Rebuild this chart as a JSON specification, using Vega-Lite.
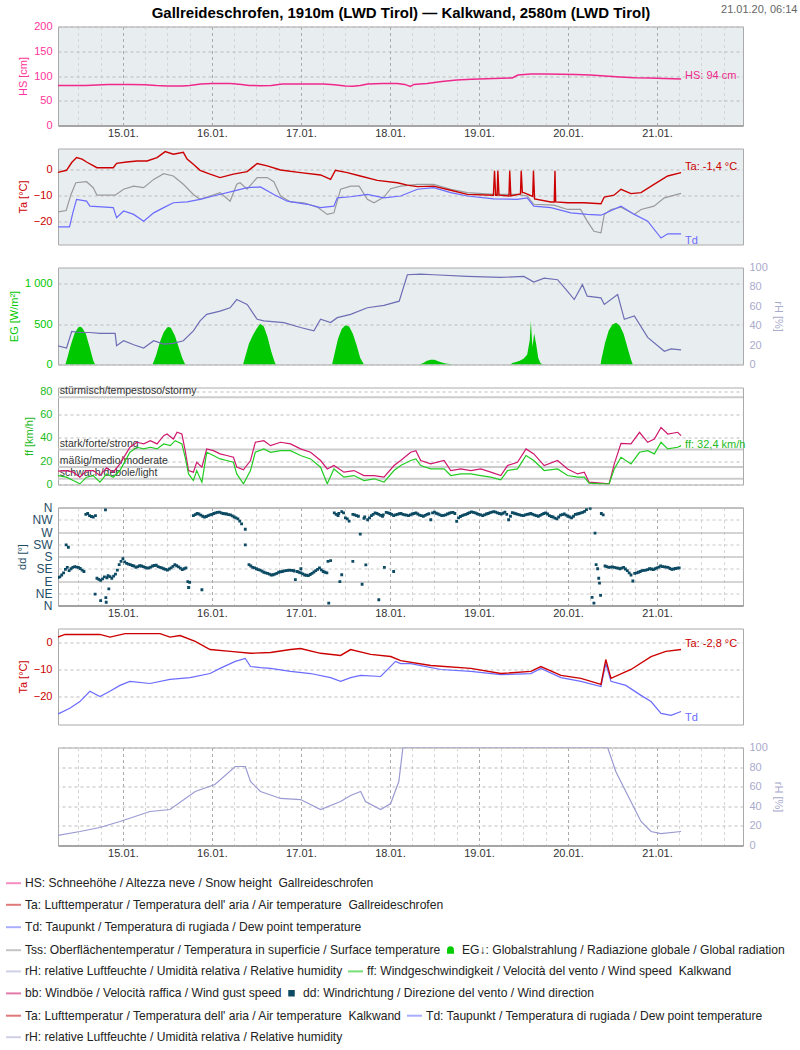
{
"$schema":"https://vega.github.io/schema/vega-lite/v6.json",
"background":"white",
"padding":{"left":4,"top":2.5,"right":0,"bottom":0},
"bounds":"flush",
"spacing":23,
"config":{
 "font":"Liberation Sans",
 "view":{"stroke":"#aaa"},
 "axis":{"labelFont":"Liberation Sans","titleFont":"Liberation Sans","labelFontSize":11,"titleFontSize":11,"titleFontWeight":"normal","labelColor":"#333","gridColor":"#bbb","gridDash":[3,3],"ticks":false,"domain":false,"labelPadding":2,"titlePadding":5},
 "axisY":{"labelFlush":false,"labelPadding":6},
 "legend":{"orient":"none","direction":"horizontal","labelFont":"Liberation Sans","labelFontSize":12.1,"labelColor":"#222","labelLimit":800,"symbolSize":225,"symbolStrokeWidth":2,"columnPadding":1,"labelOffset":3,"padding":0,"symbolOpacity":1}
},
"datasets":{
 "hs":[{"h":6,"v":81},{"h":10,"v":81},{"h":14,"v":81},{"h":17,"v":82},{"h":20,"v":83},{"h":26,"v":83},{"h":30,"v":82.5},{"h":33,"v":81},{"h":36,"v":80},{"h":40,"v":80},{"h":42,"v":81},{"h":45,"v":84},{"h":48,"v":85},{"h":53,"v":85},{"h":56,"v":83},{"h":58,"v":81},{"h":61,"v":80.5},{"h":64,"v":81},{"h":67,"v":84},{"h":72,"v":84},{"h":78,"v":84},{"h":81,"v":82.5},{"h":84,"v":80},{"h":86,"v":79.5},{"h":88,"v":81},{"h":90,"v":84},{"h":94,"v":85},{"h":98,"v":85},{"h":100,"v":83},{"h":101.5,"v":79},{"h":102.5,"v":83},{"h":104,"v":84},{"h":106,"v":85},{"h":110,"v":89},{"h":114,"v":92},{"h":118,"v":93.5},{"h":122,"v":94.5},{"h":126,"v":95.5},{"h":129,"v":96},{"h":130.5,"v":102},{"h":134,"v":104},{"h":138,"v":104},{"h":142,"v":103.5},{"h":146,"v":103},{"h":150,"v":102},{"h":154,"v":100},{"h":158,"v":98},{"h":162,"v":96.5},{"h":166,"v":96},{"h":170,"v":95},{"h":174.5,"v":94}],
 "ta1":[{"h":6.2,"v":-1.3},{"h":8.8,"v":-0.4},{"h":10.2,"v":2.6},{"h":11.5,"v":4.5},{"h":13,"v":3.9},{"h":14.2,"v":2.8},{"h":17,"v":0.6},{"h":21.4,"v":0.6},{"h":22.3,"v":2.3},{"h":25,"v":2.8},{"h":27.8,"v":3.2},{"h":30.5,"v":3.2},{"h":33.2,"v":4.5},{"h":35.4,"v":6.8},{"h":37.6,"v":5.8},{"h":40.3,"v":6.5},{"h":41.3,"v":3.9},{"h":43,"v":1.9},{"h":44.8,"v":-0.4},{"h":47.5,"v":-1.9},{"h":50.2,"v":-3.2},{"h":53.8,"v":-1.9},{"h":57.5,"v":-0.9},{"h":60.2,"v":2.2},{"h":62.9,"v":1.3},{"h":66.5,"v":-0.3},{"h":71.9,"v":-1.3},{"h":77.3,"v":-2.2},{"h":80,"v":-3.9},{"h":81.3,"v":-0.4},{"h":84.5,"v":-1.3},{"h":88,"v":-2.6},{"h":92.6,"v":-4.3},{"h":98,"v":-5.2},{"h":100.7,"v":-6.1},{"h":103.4,"v":-6.7},{"h":107.8,"v":-6.5},{"h":112.4,"v":-8.1},{"h":116.9,"v":-9.7},{"h":123.9,"v":-10},{"h":124.2,"v":-0.6},{"h":124.5,"v":-10},{"h":124.9,"v":-10},{"h":125.1,"v":-0.6},{"h":125.4,"v":-10},{"h":128.1,"v":-10.3},{"h":128.3,"v":-0.6},{"h":128.6,"v":-10.3},{"h":131.2,"v":-9.5},{"h":131.4,"v":-0.6},{"h":131.7,"v":-9},{"h":132.1,"v":-9},{"h":134.5,"v":-10.5},{"h":134.7,"v":-0.6},{"h":135,"v":-11.4},{"h":139.4,"v":-12.6},{"h":140.3,"v":-12.6},{"h":140.5,"v":-0.6},{"h":140.7,"v":-12.6},{"h":143.9,"v":-12.9},{"h":148.3,"v":-12.9},{"h":152.9,"v":-13.3},{"h":153.8,"v":-10.7},{"h":156.4,"v":-10},{"h":158.3,"v":-7.7},{"h":161,"v":-9.4},{"h":163.7,"v":-9},{"h":167.2,"v":-5.8},{"h":170.9,"v":-2.6},{"h":174.5,"v":-1.3}],
 "tss":[{"h":6.2,"v":-16.5},{"h":8.7,"v":-15.9},{"h":10,"v":-9.7},{"h":11.3,"v":-5.2},{"h":14.2,"v":-4.8},{"h":16,"v":-7.1},{"h":17,"v":-10},{"h":21.9,"v":-10},{"h":24.2,"v":-7.7},{"h":26.9,"v":-6.5},{"h":29.6,"v":-7.1},{"h":32.3,"v":-3.9},{"h":35,"v":-1.7},{"h":37.6,"v":-2.6},{"h":40.3,"v":-5.8},{"h":43,"v":-9.7},{"h":44.8,"v":-11.6},{"h":47.5,"v":-10.3},{"h":50.2,"v":-9},{"h":52.9,"v":-12.3},{"h":54.7,"v":-5.8},{"h":55.6,"v":-5.2},{"h":57.5,"v":-7.7},{"h":60.2,"v":-3.2},{"h":62.9,"v":-3.2},{"h":64.7,"v":-4.8},{"h":66.5,"v":-10.3},{"h":69.2,"v":-12.6},{"h":72.8,"v":-12.9},{"h":76.4,"v":-14.6},{"h":79.1,"v":-17.4},{"h":80.9,"v":-16.8},{"h":82.7,"v":-7.7},{"h":85.4,"v":-6.5},{"h":87.7,"v":-6.5},{"h":89.9,"v":-11.6},{"h":91.7,"v":-12.9},{"h":94.4,"v":-10.7},{"h":96.2,"v":-7.5},{"h":98.9,"v":-6.5},{"h":103.4,"v":-5.8},{"h":107.8,"v":-5.8},{"h":112.4,"v":-7.7},{"h":116.9,"v":-9},{"h":124,"v":-9.7},{"h":130.3,"v":-9.7},{"h":133,"v":-10.3},{"h":134.8,"v":-13.5},{"h":140.2,"v":-13.8},{"h":143.9,"v":-15.5},{"h":147.4,"v":-15.5},{"h":149.2,"v":-20},{"h":151,"v":-23.9},{"h":152.9,"v":-24.5},{"h":153.8,"v":-17.4},{"h":155.6,"v":-15.5},{"h":158.3,"v":-14.6},{"h":161.9,"v":-17.4},{"h":163.7,"v":-15.5},{"h":167.2,"v":-14.2},{"h":170,"v":-11},{"h":174.5,"v":-9.3}],
 "td1":[{"h":6.2,"v":-22.2},{"h":9.6,"v":-22.2},{"h":10.5,"v":-16.8},{"h":11.5,"v":-11.6},{"h":14.2,"v":-12.3},{"h":15.1,"v":-14.2},{"h":21.4,"v":-14.8},{"h":22.3,"v":-18.7},{"h":24.2,"v":-16.1},{"h":26.9,"v":-17.4},{"h":29.6,"v":-20},{"h":32.3,"v":-16.8},{"h":35,"v":-14.8},{"h":37.6,"v":-12.9},{"h":41.3,"v":-12.6},{"h":44.8,"v":-11.6},{"h":48.4,"v":-10.3},{"h":53.8,"v":-8.4},{"h":57.5,"v":-7.1},{"h":61.1,"v":-6.8},{"h":64.7,"v":-9.7},{"h":68.3,"v":-12.3},{"h":73.7,"v":-13.5},{"h":77.3,"v":-14.8},{"h":80.9,"v":-14.2},{"h":81.8,"v":-11},{"h":85.4,"v":-10.6},{"h":89.9,"v":-9.7},{"h":94.4,"v":-11},{"h":98.9,"v":-10.3},{"h":103.4,"v":-7.7},{"h":107.8,"v":-7.1},{"h":112.4,"v":-9},{"h":116.9,"v":-10.3},{"h":124,"v":-11.4},{"h":130.3,"v":-11.6},{"h":133,"v":-11},{"h":134.8,"v":-14.2},{"h":139.4,"v":-14.8},{"h":144.8,"v":-16.8},{"h":149.2,"v":-17.4},{"h":152.9,"v":-17.7},{"h":158.3,"v":-14.2},{"h":161.9,"v":-17.4},{"h":165.5,"v":-20},{"h":169.1,"v":-26.5},{"h":170.9,"v":-24.9},{"h":174.5,"v":-24.9}],
 "eg":[{"h":6,"v":0},{"h":8.5,"v":0},{"h":9,"v":80},{"h":10,"v":250},{"h":11,"v":390},{"h":12,"v":460},{"h":12.5,"v":468},{"h":13,"v":455},{"h":14,"v":380},{"h":15,"v":220},{"h":16,"v":50},{"h":16.5,"v":0},{"h":32,"v":0},{"h":33,"v":120},{"h":34,"v":280},{"h":35,"v":400},{"h":36,"v":460},{"h":36.5,"v":465},{"h":37,"v":450},{"h":38,"v":360},{"h":39,"v":220},{"h":40,"v":80},{"h":40.8,"v":0},{"h":56.4,"v":0},{"h":57,"v":100},{"h":58,"v":260},{"h":59,"v":360},{"h":60,"v":440},{"h":61,"v":505},{"h":62,"v":470},{"h":63,"v":340},{"h":64,"v":160},{"h":65,"v":20},{"h":65.3,"v":0},{"h":80.4,"v":0},{"h":81,"v":120},{"h":82,"v":320},{"h":83,"v":440},{"h":84,"v":485},{"h":85,"v":470},{"h":86,"v":380},{"h":87,"v":240},{"h":88,"v":80},{"h":89,"v":0},{"h":104,"v":0},{"h":105,"v":20},{"h":106,"v":45},{"h":107,"v":60},{"h":108,"v":58},{"h":109,"v":40},{"h":110,"v":25},{"h":111,"v":12},{"h":112,"v":5},{"h":113,"v":0},{"h":128.5,"v":0},{"h":129,"v":20},{"h":130,"v":30},{"h":131,"v":45},{"h":132,"v":70},{"h":133,"v":120},{"h":133.7,"v":300},{"h":134,"v":540},{"h":134.4,"v":220},{"h":134.9,"v":385},{"h":135.4,"v":260},{"h":136,"v":80},{"h":136.6,"v":15},{"h":137.3,"v":0},{"h":152.8,"v":0},{"h":153,"v":60},{"h":154,"v":270},{"h":155,"v":420},{"h":156,"v":495},{"h":157,"v":518},{"h":158,"v":480},{"h":159,"v":380},{"h":160,"v":220},{"h":161,"v":60},{"h":161.5,"v":0},{"h":174.5,"v":0}],
 "rh1":[{"h":6.2,"v":19.4},{"h":8.8,"v":17},{"h":10.2,"v":34},{"h":12.4,"v":33},{"h":15.1,"v":33},{"h":17.8,"v":32},{"h":21.9,"v":32},{"h":22.3,"v":19.4},{"h":24.2,"v":24.5},{"h":26.9,"v":20.4},{"h":29.6,"v":17},{"h":32.3,"v":24.5},{"h":35,"v":21},{"h":37.6,"v":21.8},{"h":40.3,"v":24.5},{"h":43,"v":34.7},{"h":44.8,"v":44.9},{"h":46.6,"v":51.7},{"h":50.2,"v":55.1},{"h":52.9,"v":58.5},{"h":54.7,"v":67},{"h":57.5,"v":61.9},{"h":60.2,"v":46.6},{"h":62,"v":44.9},{"h":67.4,"v":43.2},{"h":71.9,"v":38.1},{"h":75.5,"v":34.7},{"h":77.3,"v":46.6},{"h":80,"v":43.2},{"h":81.8,"v":48.3},{"h":85.4,"v":51.7},{"h":89.9,"v":58.5},{"h":94.4,"v":60.9},{"h":98.5,"v":65.3},{"h":100.7,"v":92.5},{"h":104.3,"v":93.2},{"h":107.8,"v":92.5},{"h":116.9,"v":90.8},{"h":125.9,"v":89.8},{"h":132.1,"v":90.8},{"h":134.8,"v":85},{"h":137.6,"v":89.1},{"h":141.2,"v":87.4},{"h":143.9,"v":75.5},{"h":145.7,"v":67},{"h":147.9,"v":82.3},{"h":149.2,"v":70.4},{"h":152.9,"v":68.7},{"h":153.8,"v":61.9},{"h":157.4,"v":72.1},{"h":159.2,"v":46.6},{"h":161.9,"v":50},{"h":165.5,"v":27.9},{"h":170,"v":13.6},{"h":171.8,"v":16},{"h":174.5,"v":15}],
 "bb":[{"h":6.2,"v":11.4},{"h":8.8,"v":12},{"h":10.6,"v":10.6},{"h":12.4,"v":6.3},{"h":14.2,"v":12},{"h":16,"v":12},{"h":17.8,"v":7.7},{"h":19.6,"v":14.3},{"h":21.4,"v":10.6},{"h":23.2,"v":17.7},{"h":25.9,"v":32},{"h":27.8,"v":36.3},{"h":29.6,"v":34.9},{"h":31.4,"v":37.7},{"h":33.2,"v":34.9},{"h":35,"v":42},{"h":35.9,"v":43.4},{"h":37.6,"v":39.1},{"h":38.6,"v":44.9},{"h":39.9,"v":43.4},{"h":40.8,"v":29.1},{"h":41.7,"v":12},{"h":43,"v":10.6},{"h":43.9,"v":19.1},{"h":45.3,"v":14.9},{"h":46.6,"v":30.6},{"h":48.4,"v":29.1},{"h":50.2,"v":26.3},{"h":52,"v":24.9},{"h":53.8,"v":23.4},{"h":54.7,"v":14.9},{"h":56.5,"v":12.6},{"h":58.4,"v":20.6},{"h":59.7,"v":36.3},{"h":62,"v":37.7},{"h":63.8,"v":33.4},{"h":66.5,"v":36.3},{"h":69.2,"v":34.9},{"h":71.9,"v":30.6},{"h":74.6,"v":27.7},{"h":77.3,"v":20.6},{"h":79.1,"v":13.4},{"h":80.9,"v":16.3},{"h":83.6,"v":10.6},{"h":86.3,"v":12},{"h":89,"v":7.7},{"h":91.7,"v":7.7},{"h":94.4,"v":6.3},{"h":97.1,"v":16.3},{"h":98.9,"v":20.6},{"h":101.6,"v":27.7},{"h":103,"v":29.1},{"h":104.3,"v":20.6},{"h":107,"v":17.7},{"h":110.6,"v":20.6},{"h":112.4,"v":12},{"h":115.1,"v":13.4},{"h":117.8,"v":12},{"h":120.5,"v":13.4},{"h":123.2,"v":10.6},{"h":125.9,"v":7.7},{"h":127.7,"v":16.3},{"h":130.4,"v":19.1},{"h":132.7,"v":30.6},{"h":134.8,"v":26.3},{"h":137.6,"v":16.3},{"h":141.2,"v":20.6},{"h":143.9,"v":13.4},{"h":146.6,"v":9.1},{"h":148.4,"v":10.6},{"h":149.7,"v":2},{"h":152.9,"v":1.1},{"h":155.1,"v":0.6},{"h":156.5,"v":17.7},{"h":158.3,"v":35.4},{"h":161,"v":34.9},{"h":163.3,"v":44.9},{"h":165.5,"v":36.3},{"h":167.3,"v":39.1},{"h":169.1,"v":49.1},{"h":170.9,"v":43.4},{"h":173.6,"v":44.9},{"h":174.5,"v":42}],
 "ff":[{"h":6.2,"v":7.7},{"h":8.8,"v":6.3},{"h":10.6,"v":3.4},{"h":12.4,"v":0.6},{"h":14.2,"v":6.3},{"h":16,"v":7.7},{"h":17.8,"v":2},{"h":19.6,"v":9.1},{"h":21.4,"v":6.3},{"h":23.2,"v":12},{"h":25.9,"v":27.7},{"h":27.8,"v":32},{"h":29.6,"v":30.6},{"h":31.4,"v":32},{"h":33.2,"v":30.6},{"h":35,"v":34.9},{"h":36.8,"v":33.4},{"h":38.1,"v":37.7},{"h":39.9,"v":34.9},{"h":40.8,"v":23.4},{"h":41.7,"v":9.1},{"h":43,"v":3.4},{"h":43.9,"v":12},{"h":45.3,"v":2},{"h":46.6,"v":27.7},{"h":48.4,"v":24.9},{"h":50.2,"v":22},{"h":52,"v":20.6},{"h":53.8,"v":19.1},{"h":54.7,"v":9.1},{"h":56.5,"v":0.6},{"h":58.4,"v":12},{"h":59.7,"v":27.7},{"h":62,"v":30.6},{"h":63.8,"v":27.7},{"h":66.5,"v":29.1},{"h":69.2,"v":29.1},{"h":71.9,"v":24.9},{"h":74.6,"v":22},{"h":77.3,"v":14.9},{"h":79.1,"v":0.6},{"h":80.9,"v":13.4},{"h":83.6,"v":6.3},{"h":86.3,"v":7.7},{"h":89,"v":3.4},{"h":91.7,"v":4.9},{"h":94.4,"v":2},{"h":97.1,"v":12},{"h":98.9,"v":16.3},{"h":101.6,"v":20.6},{"h":103,"v":22},{"h":104.3,"v":16.3},{"h":107,"v":13.4},{"h":110.6,"v":13.4},{"h":112.4,"v":7.7},{"h":115.1,"v":9.1},{"h":117.8,"v":9.1},{"h":120.5,"v":7.7},{"h":123.2,"v":6.3},{"h":125.9,"v":4},{"h":127.7,"v":12},{"h":130.4,"v":13.4},{"h":132.7,"v":24.9},{"h":134.8,"v":20.6},{"h":137.6,"v":12},{"h":141.2,"v":13.4},{"h":143.9,"v":7.7},{"h":146.6,"v":6.3},{"h":148.4,"v":6.3},{"h":149.7,"v":1.1},{"h":152.9,"v":0.6},{"h":155.1,"v":0.6},{"h":156.5,"v":13.4},{"h":158.3,"v":23.4},{"h":161,"v":17.7},{"h":163.3,"v":27.7},{"h":165.5,"v":29.1},{"h":167.3,"v":26.3},{"h":169.1,"v":36.3},{"h":170.9,"v":30.6},{"h":173.6,"v":32},{"h":174.5,"v":33.4}],
 "dd":[{"h":6,"v":100},{"h":7,"v":105},{"h":8,"v":120},{"h":9,"v":140},{"h":10,"v":135},{"h":11,"v":143},{"h":12,"v":140},{"h":13,"v":130},{"h":14,"v":335},{"h":15,"v":330},{"h":16,"v":325},{"h":17,"v":100},{"h":18,"v":92},{"h":19,"v":105},{"h":20,"v":110},{"h":21,"v":100},{"h":22,"v":115},{"h":23,"v":150},{"h":24,"v":172},{"h":25,"v":155},{"h":26,"v":150},{"h":27,"v":145},{"h":28,"v":143},{"h":29,"v":145},{"h":30,"v":140},{"h":31,"v":138},{"h":32,"v":145},{"h":33,"v":148},{"h":34,"v":140},{"h":35,"v":135},{"h":36,"v":130},{"h":37,"v":138},{"h":38,"v":150},{"h":39,"v":142},{"h":40,"v":132},{"h":41,"v":138},{"h":42,"v":85},{"h":43,"v":330},{"h":44,"v":338},{"h":45,"v":332},{"h":46,"v":325},{"h":47,"v":330},{"h":48,"v":335},{"h":49,"v":340},{"h":50,"v":343},{"h":51,"v":338},{"h":52,"v":336},{"h":53,"v":333},{"h":54,"v":325},{"h":55,"v":318},{"h":56,"v":300},{"h":57,"v":280},{"h":58,"v":150},{"h":59,"v":140},{"h":60,"v":135},{"h":61,"v":130},{"h":62,"v":122},{"h":63,"v":118},{"h":64,"v":112},{"h":65,"v":115},{"h":66,"v":122},{"h":67,"v":125},{"h":68,"v":128},{"h":69,"v":130},{"h":70,"v":128},{"h":71,"v":125},{"h":72,"v":120},{"h":73,"v":112},{"h":74,"v":110},{"h":75,"v":118},{"h":76,"v":128},{"h":77,"v":138},{"h":78,"v":125},{"h":79,"v":120},{"h":80,"v":165},{"h":81,"v":340},{"h":82,"v":330},{"h":83,"v":345},{"h":84,"v":322},{"h":85,"v":310},{"h":86,"v":335},{"h":87,"v":330},{"h":88,"v":262},{"h":89,"v":320},{"h":90,"v":315},{"h":91,"v":330},{"h":92,"v":340},{"h":93,"v":335},{"h":94,"v":328},{"h":95,"v":342},{"h":96,"v":338},{"h":97,"v":330},{"h":98,"v":335},{"h":99,"v":338},{"h":100,"v":333},{"h":101,"v":330},{"h":102,"v":336},{"h":103,"v":340},{"h":104,"v":332},{"h":105,"v":328},{"h":106,"v":335},{"h":107,"v":315},{"h":108,"v":343},{"h":109,"v":336},{"h":110,"v":330},{"h":111,"v":333},{"h":112,"v":339},{"h":113,"v":342},{"h":114,"v":309},{"h":115,"v":327},{"h":116,"v":333},{"h":117,"v":338},{"h":118,"v":344},{"h":119,"v":340},{"h":120,"v":335},{"h":121,"v":330},{"h":122,"v":336},{"h":123,"v":341},{"h":124,"v":345},{"h":125,"v":340},{"h":126,"v":336},{"h":127,"v":343},{"h":128,"v":315},{"h":129,"v":341},{"h":130,"v":337},{"h":131,"v":333},{"h":132,"v":330},{"h":133,"v":335},{"h":134,"v":338},{"h":135,"v":332},{"h":136,"v":328},{"h":137,"v":335},{"h":138,"v":340},{"h":139,"v":330},{"h":140,"v":325},{"h":141,"v":318},{"h":142,"v":332},{"h":143,"v":336},{"h":144,"v":328},{"h":145,"v":322},{"h":146,"v":335},{"h":147,"v":338},{"h":148,"v":342},{"h":149,"v":352},{"h":150,"v":357},{"h":150.5,"v":30},{"h":151,"v":9},{"h":151.3,"v":266},{"h":151.6,"v":150},{"h":152,"v":135},{"h":152.3,"v":100},{"h":152.5,"v":82},{"h":152.8,"v":37},{"h":153,"v":338},{"h":153.5,"v":333},{"h":154,"v":145},{"h":155,"v":140},{"h":156,"v":142},{"h":157,"v":138},{"h":158,"v":135},{"h":159,"v":140},{"h":160,"v":128},{"h":161,"v":112},{"h":161.5,"v":90},{"h":162,"v":118},{"h":163,"v":122},{"h":164,"v":128},{"h":165,"v":130},{"h":166,"v":135},{"h":167,"v":132},{"h":168,"v":138},{"h":169,"v":145},{"h":170,"v":142},{"h":171,"v":140},{"h":172,"v":133},{"h":173,"v":136},{"h":174,"v":138},{"h":8.7,"v":223},{"h":9.3,"v":214},{"h":16.5,"v":42},{"h":18,"v":18},{"h":19.3,"v":351},{"h":19.4,"v":29},{"h":19.5,"v":12},{"h":20.2,"v":61},{"h":45.3,"v":58},{"h":41.5,"v":88},{"h":41.7,"v":66},{"h":57,"v":223},{"h":79.5,"v":9},{"h":79.3,"v":162},{"h":82.5,"v":88},{"h":83,"v":113},{"h":86,"v":162},{"h":88.5,"v":78},{"h":89.5,"v":149},{"h":93,"v":21},{"h":94.5,"v":140},{"h":97,"v":125},{"h":70.5,"v":95},{"h":72,"v":135},
  {"h":6.5,"v":103},{"h":7.5,"v":112},{"h":8.5,"v":133},{"h":9.5,"v":128},{"h":10.5,"v":140},{"h":11.5,"v":141},{"h":12.5,"v":136},{"h":13.5,"v":125},{"h":14.5,"v":338},{"h":15.5,"v":327},{"h":16.6,"v":330},{"h":17.5,"v":96},{"h":18.5,"v":98},{"h":19.7,"v":102},{"h":20.5,"v":106},{"h":21.5,"v":108},{"h":22.5,"v":130},{"h":23.5,"v":162},{"h":24.5,"v":160},{"h":25.5,"v":152},{"h":26.5,"v":147},{"h":27.5,"v":140},{"h":28.5,"v":146},{"h":29.5,"v":143},{"h":30.5,"v":137},{"h":31.5,"v":141},{"h":32.5,"v":147},{"h":33.5,"v":143},{"h":34.5,"v":138},{"h":35.5,"v":133},{"h":36.5,"v":134},{"h":37.5,"v":144},{"h":38.5,"v":146},{"h":39.5,"v":137},{"h":40.5,"v":135},{"h":43.5,"v":334},{"h":44.5,"v":336},{"h":45.5,"v":328},{"h":46.5,"v":327},{"h":47.5,"v":333},{"h":48.5,"v":338},{"h":49.5,"v":342},{"h":50.5,"v":340},{"h":51.5,"v":337},{"h":52.5,"v":334},{"h":53.5,"v":329},{"h":54.5,"v":322},{"h":55.5,"v":310},{"h":58.5,"v":145},{"h":59.5,"v":138},{"h":60.5,"v":132},{"h":61.5,"v":126},{"h":62.5,"v":120},{"h":63.5,"v":115},{"h":64.5,"v":113},{"h":65.5,"v":118},{"h":66.5,"v":124},{"h":67.5,"v":127},{"h":68.5,"v":129},{"h":69.5,"v":129},{"h":70.2,"v":126},{"h":71.5,"v":122},{"h":72.5,"v":116},{"h":73.5,"v":111},{"h":74.5,"v":114},{"h":75.5,"v":123},{"h":76.5,"v":133},{"h":77.5,"v":131},{"h":78.5,"v":122},{"h":81.5,"v":335},{"h":82.2,"v":338},{"h":83.5,"v":340},{"h":84.5,"v":318},{"h":86.5,"v":333},{"h":87.5,"v":328},{"h":89.2,"v":325},{"h":90.5,"v":322},{"h":91.5,"v":335},{"h":92.5,"v":338},{"h":93.5,"v":331},{"h":94.2,"v":333},{"h":95.5,"v":340},{"h":96.5,"v":335},{"h":97.5,"v":333},{"h":98.5,"v":337},{"h":99.5,"v":335},{"h":100.5,"v":332},{"h":101.5,"v":333},{"h":102.5,"v":338},{"h":103.5,"v":336},{"h":104.5,"v":330},{"h":105.5,"v":331},{"h":106.5,"v":337},{"h":107.5,"v":340},{"h":108.5,"v":339},{"h":109.5,"v":333},{"h":110.5,"v":331},{"h":111.5,"v":336},{"h":112.5,"v":341},{"h":113.5,"v":338},{"h":114.5,"v":322},{"h":115.5,"v":330},{"h":116.5,"v":335},{"h":117.5,"v":341},{"h":118.5,"v":342},{"h":119.5,"v":337},{"h":120.5,"v":333},{"h":121.5,"v":333},{"h":122.5,"v":338},{"h":123.5,"v":343},{"h":124.5,"v":343},{"h":125.5,"v":338},{"h":126.5,"v":339},{"h":127.5,"v":335},{"h":128.5,"v":328},{"h":129.5,"v":339},{"h":130.5,"v":335},{"h":131.5,"v":331},{"h":132.5,"v":333},{"h":133.5,"v":336},{"h":134.5,"v":335},{"h":135.5,"v":330},{"h":136.5,"v":331},{"h":137.5,"v":338},{"h":138.5,"v":336},{"h":139.5,"v":327},{"h":140.5,"v":321},{"h":141.5,"v":325},{"h":142.5,"v":334},{"h":143.5,"v":332},{"h":144.5,"v":325},{"h":145.5,"v":328},{"h":146.5,"v":336},{"h":147.5,"v":340},{"h":148.5,"v":346},{"h":154.5,"v":143},{"h":155.5,"v":141},{"h":156.5,"v":140},{"h":157.5,"v":137},{"h":158.5,"v":137},{"h":159.5,"v":134},{"h":160.5,"v":120},{"h":162.5,"v":120},{"h":163.5,"v":125},{"h":164.5,"v":129},{"h":165.5,"v":132},{"h":166.5,"v":134},{"h":167.5,"v":135},{"h":168.5,"v":141},{"h":169.5,"v":143},{"h":170.5,"v":141},{"h":171.5,"v":136},{"h":172.5,"v":134},{"h":173.5,"v":137}],
 "ta2":[{"h":6.2,"v":1.9},{"h":8.4,"v":3},{"h":12.4,"v":3},{"h":17.8,"v":3},{"h":20.5,"v":2},{"h":24.6,"v":3.3},{"h":30,"v":3.3},{"h":34,"v":3.3},{"h":36.7,"v":2},{"h":39.4,"v":2.6},{"h":43.5,"v":0.4},{"h":47.5,"v":-2.6},{"h":53,"v":-3.3},{"h":58.4,"v":-4},{"h":63.8,"v":-3.7},{"h":69.2,"v":-2.6},{"h":71.9,"v":-2.2},{"h":77.3,"v":-4},{"h":82.7,"v":-4.8},{"h":85.4,"v":-2.6},{"h":90.8,"v":-4.4},{"h":96.2,"v":-5.2},{"h":98.9,"v":-6.7},{"h":107,"v":-8.5},{"h":117.8,"v":-9.6},{"h":125.9,"v":-11.5},{"h":134,"v":-10.7},{"h":136.7,"v":-8.9},{"h":142.1,"v":-12.2},{"h":147.5,"v":-13.3},{"h":152.9,"v":-15.5},{"h":154.2,"v":-6.3},{"h":155.6,"v":-13.3},{"h":161,"v":-10},{"h":166.4,"v":-5.2},{"h":170.4,"v":-3.3},{"h":174.5,"v":-2.6}],
 "td2":[{"h":6.2,"v":-26.7},{"h":9.7,"v":-24.4},{"h":12.4,"v":-21.9},{"h":15.1,"v":-18.1},{"h":17.8,"v":-20},{"h":20.5,"v":-18.1},{"h":23.2,"v":-15.9},{"h":25.9,"v":-14.4},{"h":31.3,"v":-15.2},{"h":36.7,"v":-13.7},{"h":42.1,"v":-13},{"h":47.5,"v":-11.5},{"h":50.2,"v":-9.6},{"h":54.3,"v":-7},{"h":57,"v":-5.9},{"h":58.4,"v":-8.9},{"h":61.1,"v":-9.3},{"h":63.8,"v":-9.6},{"h":69.2,"v":-10.7},{"h":74.6,"v":-11.5},{"h":80,"v":-13},{"h":82.7,"v":-14.4},{"h":85.4,"v":-13},{"h":88.1,"v":-12.2},{"h":93.5,"v":-12.6},{"h":97.5,"v":-7},{"h":98.9,"v":-7.8},{"h":101.6,"v":-7.8},{"h":109.7,"v":-10},{"h":117.8,"v":-10.7},{"h":125.9,"v":-11.9},{"h":134,"v":-11.5},{"h":136.7,"v":-9.6},{"h":142.1,"v":-13},{"h":147.5,"v":-14.4},{"h":152.9,"v":-16.3},{"h":154.2,"v":-7.8},{"h":155.6,"v":-14.4},{"h":159.6,"v":-15.9},{"h":163.7,"v":-19.6},{"h":166.4,"v":-21.9},{"h":169.1,"v":-26.3},{"h":171.8,"v":-27},{"h":174.5,"v":-25.6}],
 "rh2":[{"h":6.2,"v":10.2},{"h":12.4,"v":14.3},{"h":17.8,"v":18.4},{"h":23.2,"v":24.5},{"h":31.3,"v":34.7},{"h":36.7,"v":36.7},{"h":43.5,"v":55.1},{"h":48.8,"v":62.2},{"h":54.3,"v":80.6},{"h":57,"v":80.6},{"h":58.4,"v":65.3},{"h":61.1,"v":55.1},{"h":66.5,"v":48},{"h":71.9,"v":46.9},{"h":77.3,"v":36.7},{"h":82.7,"v":44.9},{"h":85.4,"v":51},{"h":88.1,"v":55.1},{"h":89.4,"v":44.9},{"h":93.5,"v":36.7},{"h":96.2,"v":42.8},{"h":98.4,"v":65.3},{"h":99.5,"v":100},{"h":154.7,"v":100},{"h":156.9,"v":75.5},{"h":159.6,"v":55.1},{"h":163.7,"v":24.5},{"h":166.4,"v":14.3},{"h":169.1,"v":12.2},{"h":174.5,"v":14.3}],
 "lab":[{"p":"hs","h":174.5,"v":94,"t":"HS: 94 cm"},{"p":"ta1","h":174.5,"v":-1.3,"t":"Ta: -1,4 °C"},{"p":"td1","h":174.5,"v":-24.9,"t":"Td"},{"p":"ff","h":174.5,"v":33.4,"t":"ff: 32,4 km/h"},{"p":"ta2","h":174.5,"v":-2.6,"t":"Ta: -2,8 °C"},{"p":"td2","h":174.5,"v":-25.6,"t":"Td"}],
 "thr":[{"v":75,"n":"stürmisch/tempestoso/stormy"},{"v":30,"n":"stark/forte/strong"},{"v":15,"n":"mäßig/medio/moderate"},{"v":5,"n":"schwach/debole/light"}]
},
"vconcat":[
 {"width":685,"height":99,"view":{"fill":"#e8edf0"},
  "resolve":{"axis":{"x":"independent","y":"independent"}},
  "layer":[
   {"data":{"name":"hs"},"mark":{"type":"line","color":"#f0288c","strokeWidth":1.5,"clip":true},
    "encoding":{"x":{"field":"h","type":"quantitative","title":null,"scale":{"domain":[6.5,191.2],"nice":false,"zero":false},"axis":{"values":[12,18,24,30,36,42,48,54,60,66,72,78,84,90,96,102,108,114,120,126,132,138,144,150,156,162,168,174,180,186],"labelExpr":"datum.value % 24 === 0 ? (14 + datum.value / 24) + '.01.' : ''","labelOverlap":false,"labelFlush":false,"gridColor":{"condition":{"test":"datum.value % 24 === 0","value":"#aaa"},"value":"#d6d6d6"},"domain":true,"domainColor":"#999","domainWidth":1.5}},
     "y":{"field":"v","type":"quantitative","title":"HS [cm]","scale":{"domain":[0,200],"nice":false,"zero":false},"axis":{"values":[0,50,100,150,200],"labelColor":"#ff3399","titleColor":"#ff3399"}}}},
   {"data":{"name":"lab"},"transform":[{"filter":"datum.p === 'hs'"}],"mark":{"type":"text","align":"left","dx":4,"dy":-3,"color":"#f0288c","fontSize":11},
    "encoding":{"x":{"field":"h","type":"quantitative","scale":{"domain":[6.5,191.2],"nice":false,"zero":false},"axis":{"orient":"top","labels":false,"grid":false,"domain":false,"ticks":false,"title":"Gallreideschrofen, 1910m (LWD Tirol) — Kalkwand, 2580m (LWD Tirol)","titleFontSize":15,"titleFontWeight":"bold","titleColor":"#000","titleY":-14,"titleBaseline":"middle"}},
     "y":{"field":"v","type":"quantitative","scale":{"domain":[0,200],"nice":false,"zero":false},"axis":{"orient":"right","labels":false,"grid":false,"domain":false,"ticks":false,"title":"21.01.20, 06:14","titleAngle":0,"titleX":54,"titleY":-17,"titleAlign":"right","titleBaseline":"middle","titleFontSize":11,"titleColor":"#666"}},
     "text":{"field":"t"}}}
  ]},
 {"width":685,"height":96,"view":{"fill":"#e8edf0"},
  "layer":[
   {"data":{"name":"tss"},"mark":{"type":"line","color":"#9a9a9a","strokeWidth":1.2,"clip":true},
    "encoding":{"x":{"field":"h","type":"quantitative","title":null,"scale":{"domain":[6.5,191.2],"nice":false,"zero":false},"axis":{"values":[12,18,24,30,36,42,48,54,60,66,72,78,84,90,96,102,108,114,120,126,132,138,144,150,156,162,168,174,180,186],"labelExpr":"datum.value % 24 === 0 ? (14 + datum.value / 24) + '.01.' : ''","labelOverlap":false,"labelFlush":false,"gridColor":{"condition":{"test":"datum.value % 24 === 0","value":"#aaa"},"value":"#d6d6d6"},"domain":true,"domainColor":"#999","domainWidth":1.5}},
     "y":{"field":"v","type":"quantitative","title":"Ta [°C]","scale":{"domain":[-29,8],"nice":false,"zero":false},"axis":{"values":[-20,-10,0],"labelColor":"#cc0000","titleColor":"#cc0000"}}}},
   {"data":{"name":"td1"},"mark":{"type":"line","color":"#6b6bff","strokeWidth":1.2,"clip":true},
    "encoding":{"x":{"field":"h","type":"quantitative","scale":{"domain":[6.5,191.2],"nice":false,"zero":false},"axis":null},
     "y":{"field":"v","type":"quantitative","title":"Ta [°C]","scale":{"domain":[-29,8],"nice":false,"zero":false},"axis":{"values":[-20,-10,0],"labelColor":"#cc0000","titleColor":"#cc0000"}}}},
   {"data":{"name":"ta1"},"mark":{"type":"line","color":"#cc0000","strokeWidth":1.4,"clip":true},
    "encoding":{"x":{"field":"h","type":"quantitative","scale":{"domain":[6.5,191.2],"nice":false,"zero":false},"axis":null},
     "y":{"field":"v","type":"quantitative","title":"Ta [°C]","scale":{"domain":[-29,8],"nice":false,"zero":false},"axis":{"values":[-20,-10,0],"labelColor":"#cc0000","titleColor":"#cc0000"}}}},
   {"data":{"name":"lab"},"transform":[{"filter":"datum.p === 'ta1'"}],"mark":{"type":"text","align":"left","dx":4,"dy":-6,"color":"#cc0000","fontSize":11},
    "encoding":{"x":{"field":"h","type":"quantitative","scale":{"domain":[6.5,191.2],"nice":false,"zero":false},"axis":null},
     "y":{"field":"v","type":"quantitative","title":"Ta [°C]","scale":{"domain":[-29,8],"nice":false,"zero":false},"axis":{"values":[-20,-10,0],"labelColor":"#cc0000","titleColor":"#cc0000"}},"text":{"field":"t"}}},
   {"data":{"name":"lab"},"transform":[{"filter":"datum.p === 'td1'"}],"mark":{"type":"text","align":"left","dx":4,"dy":7,"color":"#6b6bff","fontSize":11},
    "encoding":{"x":{"field":"h","type":"quantitative","scale":{"domain":[6.5,191.2],"nice":false,"zero":false},"axis":null},
     "y":{"field":"v","type":"quantitative","title":"Ta [°C]","scale":{"domain":[-29,8],"nice":false,"zero":false},"axis":{"values":[-20,-10,0],"labelColor":"#cc0000","titleColor":"#cc0000"}},"text":{"field":"t"}}}
  ]},
 {"width":685,"height":97,"view":{"fill":"#e8edf0"},
  "resolve":{"scale":{"y":"independent"}},
  "layer":[
   {"data":{"name":"eg"},"mark":{"type":"area","color":"#00c800","clip":true},
    "encoding":{"x":{"field":"h","type":"quantitative","title":null,"scale":{"domain":[6.5,191.2],"nice":false,"zero":false},"axis":{"values":[12,18,24,30,36,42,48,54,60,66,72,78,84,90,96,102,108,114,120,126,132,138,144,150,156,162,168,174,180,186],"labelExpr":"datum.value % 24 === 0 ? (14 + datum.value / 24) + '.01.' : ''","labelOverlap":false,"labelFlush":false,"gridColor":{"condition":{"test":"datum.value % 24 === 0","value":"#aaa"},"value":"#d6d6d6"},"domain":true,"domainColor":"#999","domainWidth":1.5}},
     "y":{"field":"v","type":"quantitative","title":"EG [W/m²]","scale":{"domain":[0,1200],"nice":false,"zero":false},"axis":{"values":[0,500,1000],"labelExpr":"datum.value === 1000 ? '1 000' : datum.label","labelColor":"#00c800","titleColor":"#00c800"}}}},
   {"data":{"name":"rh1"},"mark":{"type":"line","color":"#6e6eb4","strokeWidth":1.2,"clip":true},
    "encoding":{"x":{"field":"h","type":"quantitative","scale":{"domain":[6.5,191.2],"nice":false,"zero":false},"axis":null},
     "y":{"field":"v","type":"quantitative","title":"rH [%]","scale":{"domain":[0,100],"nice":false,"zero":false},"axis":{"orient":"right","values":[0,20,40,60,80,100],"grid":false,"labelColor":"#aaaacc","titleColor":"#aaaacc"}}}}
  ]},
 {"width":685,"height":97,
  "layer":[
   {"data":{"name":"thr"},"mark":{"type":"rule","color":"#cccccc","strokeWidth":2},
    "encoding":{"y":{"field":"v","type":"quantitative","title":"ff [km/h]","scale":{"domain":[0,83.4],"nice":false,"zero":false},"axis":{"values":[0,20,40,60,80],"labelColor":"#22bb22","titleColor":"#22bb22"}}}},
   {"data":{"name":"thr"},"mark":{"type":"text","align":"left","baseline":"middle","dy":-6,"fontSize":10.5,"color":"#333"},
    "encoding":{"x":{"datum":7,"type":"quantitative","scale":{"domain":[6.5,191.2],"nice":false,"zero":false},"axis":null},
     "y":{"field":"v","type":"quantitative","title":"ff [km/h]","scale":{"domain":[0,83.4],"nice":false,"zero":false},"axis":{"values":[0,20,40,60,80],"labelColor":"#22bb22","titleColor":"#22bb22"}},"text":{"field":"n"}}},
   {"data":{"name":"bb"},"mark":{"type":"line","color":"#d0176e","strokeWidth":1.2,"clip":true},
    "encoding":{"x":{"field":"h","type":"quantitative","title":null,"scale":{"domain":[6.5,191.2],"nice":false,"zero":false},"axis":{"values":[12,18,24,30,36,42,48,54,60,66,72,78,84,90,96,102,108,114,120,126,132,138,144,150,156,162,168,174,180,186],"labelExpr":"datum.value % 24 === 0 ? (14 + datum.value / 24) + '.01.' : ''","labelOverlap":false,"labelFlush":false,"gridColor":{"condition":{"test":"datum.value % 24 === 0","value":"#aaa"},"value":"#d6d6d6"},"domain":true,"domainColor":"#999","domainWidth":1.5}},
     "y":{"field":"v","type":"quantitative","title":"ff [km/h]","scale":{"domain":[0,83.4],"nice":false,"zero":false},"axis":{"values":[0,20,40,60,80],"labelColor":"#22bb22","titleColor":"#22bb22"}}}},
   {"data":{"name":"ff"},"mark":{"type":"line","color":"#22cc22","strokeWidth":1.2,"clip":true},
    "encoding":{"x":{"field":"h","type":"quantitative","scale":{"domain":[6.5,191.2],"nice":false,"zero":false},"axis":null},
     "y":{"field":"v","type":"quantitative","title":"ff [km/h]","scale":{"domain":[0,83.4],"nice":false,"zero":false},"axis":{"values":[0,20,40,60,80],"labelColor":"#22bb22","titleColor":"#22bb22"}}}},
   {"data":{"name":"lab"},"transform":[{"filter":"datum.p === 'ff'"}],"mark":{"type":"text","align":"left","dx":4,"dy":-1,"color":"#22bb22","fontSize":11},
    "encoding":{"x":{"field":"h","type":"quantitative","scale":{"domain":[6.5,191.2],"nice":false,"zero":false},"axis":null},
     "y":{"field":"v","type":"quantitative","title":"ff [km/h]","scale":{"domain":[0,83.4],"nice":false,"zero":false},"axis":{"values":[0,20,40,60,80],"labelColor":"#22bb22","titleColor":"#22bb22"}},"text":{"field":"t"}}}
  ]},
 {"width":685,"height":98,
  "layer":[
   {"data":{"name":"dd"},"mark":{"type":"square","size":8,"color":"#0d4a63","opacity":1,"clip":true},
    "encoding":{"x":{"field":"h","type":"quantitative","title":null,"scale":{"domain":[6.5,191.2],"nice":false,"zero":false},"axis":{"values":[12,18,24,30,36,42,48,54,60,66,72,78,84,90,96,102,108,114,120,126,132,138,144,150,156,162,168,174,180,186],"labelExpr":"datum.value % 24 === 0 ? (14 + datum.value / 24) + '.01.' : ''","labelOverlap":false,"labelFlush":false,"gridColor":{"condition":{"test":"datum.value % 24 === 0","value":"#aaa"},"value":"#d6d6d6"},"domain":true,"domainColor":"#999","domainWidth":1.5}},
     "y":{"field":"v","type":"quantitative","title":"dd [°]","scale":{"domain":[0,360],"nice":false,"zero":false},"axis":{"values":[0,45,90,135,180,225,270,315,360],"labelExpr":"['N','NE','E','SE','S','SW','W','NW','N'][datum.value / 45]","gridDash":{"condition":{"test":"datum.value % 90 === 0","value":[]},"value":[3,3]},"gridColor":{"condition":{"test":"datum.value % 90 === 0","value":"#aaa"},"value":"#c8c8c8"},"labelColor":"#1f4e66","titleColor":"#1f4e66","labelFontSize":12}}}}
  ]},
 {"width":685,"height":96,
  "layer":[
   {"data":{"name":"td2"},"mark":{"type":"line","color":"#6b6bff","strokeWidth":1.2,"clip":true},
    "encoding":{"x":{"field":"h","type":"quantitative","title":null,"scale":{"domain":[6.5,191.2],"nice":false,"zero":false},"axis":{"values":[12,18,24,30,36,42,48,54,60,66,72,78,84,90,96,102,108,114,120,126,132,138,144,150,156,162,168,174,180,186],"labelExpr":"datum.value % 24 === 0 ? (14 + datum.value / 24) + '.01.' : ''","labelOverlap":false,"labelFlush":false,"gridColor":{"condition":{"test":"datum.value % 24 === 0","value":"#aaa"},"value":"#d6d6d6"},"domain":true,"domainColor":"#999","domainWidth":1.5}},
     "y":{"field":"v","type":"quantitative","title":"Ta [°C]","scale":{"domain":[-30.4,5.2],"nice":false,"zero":false},"axis":{"values":[-20,-10,0],"labelColor":"#cc0000","titleColor":"#cc0000"}}}},
   {"data":{"name":"ta2"},"mark":{"type":"line","color":"#cc0000","strokeWidth":1.4,"clip":true},
    "encoding":{"x":{"field":"h","type":"quantitative","scale":{"domain":[6.5,191.2],"nice":false,"zero":false},"axis":null},
     "y":{"field":"v","type":"quantitative","title":"Ta [°C]","scale":{"domain":[-30.4,5.2],"nice":false,"zero":false},"axis":{"values":[-20,-10,0],"labelColor":"#cc0000","titleColor":"#cc0000"}}}},
   {"data":{"name":"lab"},"transform":[{"filter":"datum.p === 'ta2'"}],"mark":{"type":"text","align":"left","dx":4,"dy":-6,"color":"#cc0000","fontSize":11},
    "encoding":{"x":{"field":"h","type":"quantitative","scale":{"domain":[6.5,191.2],"nice":false,"zero":false},"axis":null},
     "y":{"field":"v","type":"quantitative","title":"Ta [°C]","scale":{"domain":[-30.4,5.2],"nice":false,"zero":false},"axis":{"values":[-20,-10,0],"labelColor":"#cc0000","titleColor":"#cc0000"}},"text":{"field":"t"}}},
   {"data":{"name":"lab"},"transform":[{"filter":"datum.p === 'td2'"}],"mark":{"type":"text","align":"left","dx":4,"dy":6,"color":"#6b6bff","fontSize":11},
    "encoding":{"x":{"field":"h","type":"quantitative","scale":{"domain":[6.5,191.2],"nice":false,"zero":false},"axis":null},
     "y":{"field":"v","type":"quantitative","title":"Ta [°C]","scale":{"domain":[-30.4,5.2],"nice":false,"zero":false},"axis":{"values":[-20,-10,0],"labelColor":"#cc0000","titleColor":"#cc0000"}},"text":{"field":"t"}}}
  ]},
 {"width":685,"height":98,
  "resolve":{"scale":{"fill":"independent","stroke":"independent","shape":"independent"}},
  "layer":[
   {"data":{"name":"rh2"},"mark":{"type":"line","color":"#9a9ad2","strokeWidth":1.2,"clip":true},
    "encoding":{"x":{"field":"h","type":"quantitative","title":null,"scale":{"domain":[6.5,191.2],"nice":false,"zero":false},"axis":{"values":[12,18,24,30,36,42,48,54,60,66,72,78,84,90,96,102,108,114,120,126,132,138,144,150,156,162,168,174,180,186],"labelExpr":"datum.value % 24 === 0 ? (14 + datum.value / 24) + '.01.' : ''","labelOverlap":false,"labelFlush":false,"gridColor":{"condition":{"test":"datum.value % 24 === 0","value":"#aaa"},"value":"#d6d6d6"},"domain":true,"domainColor":"#999","domainWidth":1.5}},
     "y":{"field":"v","type":"quantitative","title":"rH [%]","scale":{"domain":[0,100],"nice":false,"zero":false},"axis":{"orient":"right","values":[0,20,40,60,80,100],"labelColor":"#aaaacc","titleColor":"#aaaacc"}}}},
   {"data":{"values":[{"k":"HS: Schneehöhe / Altezza neve / Snow height\u00a0 Gallreideschrofen"}]},"mark":{"type":"point","opacity":0},
    "encoding":{"stroke":{"field":"k","type":"nominal","scale":{"domain":["HS: Schneehöhe / Altezza neve / Snow height\u00a0 Gallreideschrofen"],"range":["#f58cc0"]},"legend":{"title":null,"legendX":-53,"legendY":127.2}},
     "fill":{"field":"k","type":"nominal","scale":{"domain":["HS: Schneehöhe / Altezza neve / Snow height\u00a0 Gallreideschrofen"],"range":["#f58cc0"]},"legend":{"title":null,"legendX":-53,"legendY":127.2}},
     "shape":{"field":"k","type":"nominal","scale":{"domain":["HS: Schneehöhe / Altezza neve / Snow height\u00a0 Gallreideschrofen"],"range":["stroke"]},"legend":{"title":null,"legendX":-53,"legendY":127.2}}}},
   {"data":{"values":[{"k":"Ta: Lufttemperatur / Temperatura dell' aria / Air temperature\u00a0 Gallreideschrofen"}]},"mark":{"type":"point","opacity":0},
    "encoding":{"stroke":{"field":"k","type":"nominal","scale":{"domain":["Ta: Lufttemperatur / Temperatura dell' aria / Air temperature\u00a0 Gallreideschrofen"],"range":["#e07a7a"]},"legend":{"title":null,"legendX":-53,"legendY":148.8}},
     "fill":{"field":"k","type":"nominal","scale":{"domain":["Ta: Lufttemperatur / Temperatura dell' aria / Air temperature\u00a0 Gallreideschrofen"],"range":["#e07a7a"]},"legend":{"title":null,"legendX":-53,"legendY":148.8}},
     "shape":{"field":"k","type":"nominal","scale":{"domain":["Ta: Lufttemperatur / Temperatura dell' aria / Air temperature\u00a0 Gallreideschrofen"],"range":["stroke"]},"legend":{"title":null,"legendX":-53,"legendY":148.8}}}},
   {"data":{"values":[{"k":"Td: Taupunkt / Temperatura di rugiada / Dew point temperature"}]},"mark":{"type":"point","opacity":0},
    "encoding":{"stroke":{"field":"k","type":"nominal","scale":{"domain":["Td: Taupunkt / Temperatura di rugiada / Dew point temperature"],"range":["#a9aefc"]},"legend":{"title":null,"legendX":-53,"legendY":171.2}},
     "fill":{"field":"k","type":"nominal","scale":{"domain":["Td: Taupunkt / Temperatura di rugiada / Dew point temperature"],"range":["#a9aefc"]},"legend":{"title":null,"legendX":-53,"legendY":171.2}},
     "shape":{"field":"k","type":"nominal","scale":{"domain":["Td: Taupunkt / Temperatura di rugiada / Dew point temperature"],"range":["stroke"]},"legend":{"title":null,"legendX":-53,"legendY":171.2}}}},
   {"data":{"values":[{"k":"Tss: Oberflächentemperatur / Temperatura in superficie / Surface temperature"},{"k":"EG↓: Globalstrahlung / Radiazione globale / Global radiation"}]},"mark":{"type":"point","opacity":0},
    "encoding":{"stroke":{"field":"k","type":"nominal","scale":{"domain":["Tss: Oberflächentemperatur / Temperatura in superficie / Surface temperature","EG↓: Globalstrahlung / Radiazione globale / Global radiation"],"range":["#c4c4c4","#00cc00"]},"legend":{"title":null,"legendX":-53,"legendY":193.5}},
     "fill":{"field":"k","type":"nominal","scale":{"domain":["Tss: Oberflächentemperatur / Temperatura in superficie / Surface temperature","EG↓: Globalstrahlung / Radiazione globale / Global radiation"],"range":["#c4c4c4","#00cc00"]},"legend":{"title":null,"legendX":-53,"legendY":193.5}},
     "shape":{"field":"k","type":"nominal","scale":{"domain":["Tss: Oberflächentemperatur / Temperatura in superficie / Surface temperature","EG↓: Globalstrahlung / Radiazione globale / Global radiation"],"range":["stroke","M-0.33,0.38 L-0.33,0.05 C-0.33,-0.48 0.33,-0.48 0.33,0.05 L0.33,0.38 Z"]},"legend":{"title":null,"legendX":-53,"legendY":193.5}}}},
   {"data":{"values":[{"k":"rH: relative Luftfeuchte / Umidità relativa / Relative humidity"},{"k":"ff: Windgeschwindigkeit / Velocità del vento / Wind speed\u00a0 Kalkwand"}]},"mark":{"type":"point","opacity":0},
    "encoding":{"stroke":{"field":"k","type":"nominal","scale":{"domain":["rH: relative Luftfeuchte / Umidità relativa / Relative humidity","ff: Windgeschwindigkeit / Velocità del vento / Wind speed\u00a0 Kalkwand"],"range":["#cfd0e6","#77dd77"]},"legend":{"title":null,"legendX":-53,"legendY":215.2}},
     "fill":{"field":"k","type":"nominal","scale":{"domain":["rH: relative Luftfeuchte / Umidità relativa / Relative humidity","ff: Windgeschwindigkeit / Velocità del vento / Wind speed\u00a0 Kalkwand"],"range":["#cfd0e6","#77dd77"]},"legend":{"title":null,"legendX":-53,"legendY":215.2}},
     "shape":{"field":"k","type":"nominal","scale":{"domain":["rH: relative Luftfeuchte / Umidità relativa / Relative humidity","ff: Windgeschwindigkeit / Velocità del vento / Wind speed\u00a0 Kalkwand"],"range":["stroke","stroke"]},"legend":{"title":null,"legendX":-53,"legendY":215.2}}}},
   {"data":{"values":[{"k":"bb: Windböe / Velocità raffica / Wind gust speed"},{"k":"dd: Windrichtung / Direzione del vento / Wind direction"}]},"mark":{"type":"point","opacity":0},
    "encoding":{"stroke":{"field":"k","type":"nominal","scale":{"domain":["bb: Windböe / Velocità raffica / Wind gust speed","dd: Windrichtung / Direzione del vento / Wind direction"],"range":["#e47aaa","#0d4a63"]},"legend":{"title":null,"legendX":-53,"legendY":237.2}},
     "fill":{"field":"k","type":"nominal","scale":{"domain":["bb: Windböe / Velocità raffica / Wind gust speed","dd: Windrichtung / Direzione del vento / Wind direction"],"range":["#e47aaa","#0d4a63"]},"legend":{"title":null,"legendX":-53,"legendY":237.2}},
     "shape":{"field":"k","type":"nominal","scale":{"domain":["bb: Windböe / Velocità raffica / Wind gust speed","dd: Windrichtung / Direzione del vento / Wind direction"],"range":["stroke","M-0.3,-0.3 L0.3,-0.3 L0.3,0.3 L-0.3,0.3 Z"]},"legend":{"title":null,"legendX":-53,"legendY":237.2}}}},
   {"data":{"values":[{"k":"Ta: Lufttemperatur / Temperatura dell' aria / Air temperature\u00a0 Kalkwand"},{"k":"Td: Taupunkt / Temperatura di rugiada / Dew point temperature"}]},"mark":{"type":"point","opacity":0},
    "encoding":{"stroke":{"field":"k","type":"nominal","scale":{"domain":["Ta: Lufttemperatur / Temperatura dell' aria / Air temperature\u00a0 Kalkwand","Td: Taupunkt / Temperatura di rugiada / Dew point temperature"],"range":["#e07a7a","#a9aefc"]},"legend":{"title":null,"legendX":-53,"legendY":259.5}},
     "fill":{"field":"k","type":"nominal","scale":{"domain":["Ta: Lufttemperatur / Temperatura dell' aria / Air temperature\u00a0 Kalkwand","Td: Taupunkt / Temperatura di rugiada / Dew point temperature"],"range":["#e07a7a","#a9aefc"]},"legend":{"title":null,"legendX":-53,"legendY":259.5}},
     "shape":{"field":"k","type":"nominal","scale":{"domain":["Ta: Lufttemperatur / Temperatura dell' aria / Air temperature\u00a0 Kalkwand","Td: Taupunkt / Temperatura di rugiada / Dew point temperature"],"range":["stroke","stroke"]},"legend":{"title":null,"legendX":-53,"legendY":259.5}}}},
   {"data":{"values":[{"k":"rH: relative Luftfeuchte / Umidità relativa / Relative humidity"}]},"mark":{"type":"point","opacity":0},
    "encoding":{"stroke":{"field":"k","type":"nominal","scale":{"domain":["rH: relative Luftfeuchte / Umidità relativa / Relative humidity"],"range":["#cfd0e6"]},"legend":{"title":null,"legendX":-53,"legendY":281.2}},
     "fill":{"field":"k","type":"nominal","scale":{"domain":["rH: relative Luftfeuchte / Umidità relativa / Relative humidity"],"range":["#cfd0e6"]},"legend":{"title":null,"legendX":-53,"legendY":281.2}},
     "shape":{"field":"k","type":"nominal","scale":{"domain":["rH: relative Luftfeuchte / Umidità relativa / Relative humidity"],"range":["stroke"]},"legend":{"title":null,"legendX":-53,"legendY":281.2}}}}
  ]}
]
}
